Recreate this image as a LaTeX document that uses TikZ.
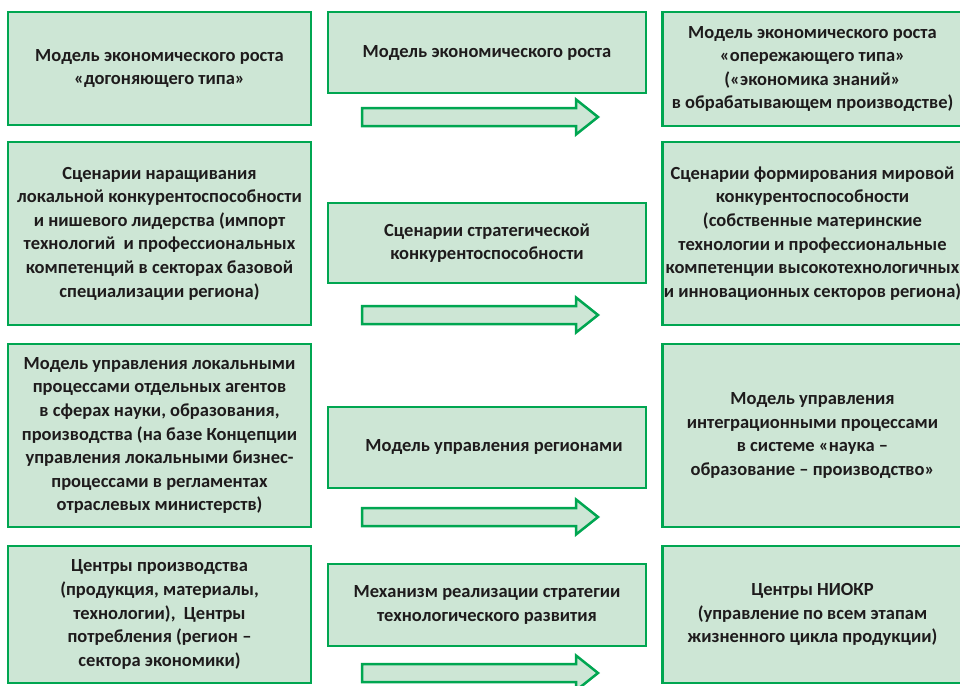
\documentclass[tikz,border=0pt]{standalone}
\usepackage{fontspec}
\setmainfont{Carlito}
\definecolor{boxgreen}{RGB}{0,166,81}
\definecolor{boxfill}{RGB}{205,230,213}
\definecolor{boxtext}{RGB}{30,27,28}
\tikzset{
  box/.style = {draw = boxgreen, fill = boxfill, line width = 2.5pt, inner sep = 0pt,
    align = center, text = boxtext, font = \bfseries\fontsize{18.5}{23.6}\selectfont},
  leftbox/.style = {box, minimum width = 303pt},
  midbox/.style = {box, minimum width = 318pt},
  rightbox/.style = {box, minimum width = 300pt},
  blockarrow/.style = {draw = boxgreen, fill = boxfill, line width = 2.5pt, line join = miter}
}
\begin{document}
\begin{tikzpicture}[x = 1pt, y = -1pt]
        \fill[white] (0, 0) rectangle (960, 685);
        \path[use as bounding box, clip] (0, 0) rectangle (960, 685);

        % left column
        \node[leftbox, minimum height = 113pt] (catchup) at (159.5, 68.5)
          {Модель экономического роста\\«догоняющего типа»};
        \node[leftbox, minimum height = 183pt] (localcomp) at (159.5, 233.5)
          {Сценарии наращивания\\локальной конкурентоспособности\\и нишевого лидерства (импорт\\технологий\ \ и профессиональных\\компетенций в секторах базовой\\специализации региона)};
        \node[leftbox, minimum height = 183pt] (localmgmt) at (159.5, 435.5)
          {Модель управления локальными\\процессами отдельных агентов\\в сферах науки, образования,\\производства (на базе Концепции\\управления локальными бизнес-\\процессами в регламентах\\отраслевых министерств)};
        \node[leftbox, minimum height = 137pt] (prodcentres) at (159.5, 614.5)
          {Центры производства\\(продукция, материалы,\\технологии),\ \ Центры\\потребления (регион –\\сектора экономики)};

        % middle column
        \node[midbox, minimum height = 81pt] (growth) at (487, 52.5)
          {Модель экономического роста};
        \node[midbox, minimum height = 80pt] (stratcomp) at (487, 243)
          {Сценарии стратегической\\конкурентоспособности};
        \node[midbox, minimum height = 81pt] (regmgmt) at (487, 447.5)
          {\raisebox{5pt}{\hspace*{14pt}Модель управления регионами}};
        \node[midbox, minimum height = 82pt] (mechanism) at (487, 605)
          {Механизм реализации стратегии\\технологического развития};

        % right column
        \node[rightbox, minimum height = 114pt] (advance) at (812.5, 69)
          {Модель экономического роста\\«опережающего типа»\\(«экономика знаний»\\в обрабатывающем производстве)};
        \node[rightbox, minimum height = 183pt] (worldcomp) at (812.5, 233.5)
          {Сценарии формирования мировой\\конкурентоспособности\\(собственные материнские\\технологии и профессиональные\\компетенции высокотехнологичных\\и инновационных секторов региона)};
        \node[rightbox, minimum height = 183pt] (integration) at (812.5, 435.5)
          {Модель управления\\интеграционными процессами\\в системе «наука –\\образование – производство»};
        \node[rightbox, minimum height = 137pt] (rdcentres) at (812.5, 614.5)
          {Центры НИОКР\\(управление по всем этапам\\жизненного цикла продукции)};

        \foreach \y in {117, 315, 517, 673}
          \draw[blockarrow] (362, \y - 9) -- (576, \y - 9) -- (576, \y - 17.5) -- (598, \y)
            -- (576, \y + 17.5) -- (576, \y + 9) -- (362, \y + 9) -- cycle;
      \end{tikzpicture}
\end{document}
